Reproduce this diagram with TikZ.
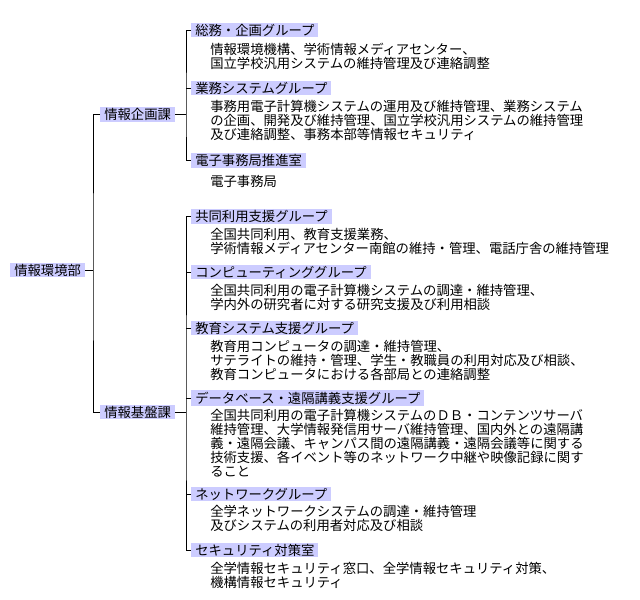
\documentclass[tikz,border=0pt]{standalone}
\usepackage{fontspec}
\setmainfont{Noto Sans CJK JP}
\definecolor{lav}{HTML}{CCCCFF}
\begin{document}
\begin{tikzpicture}[x=0.75pt,y=-0.75pt,
  lab/.style={fill=lav,inner xsep=3pt,inner ysep=1pt,anchor=west,font=\fontsize{10}{11}\selectfont},
  desc/.style={anchor=north west,inner sep=0pt,align=left,font=\fontsize{10}{10.5}\selectfont},
  ln/.style={draw=black,line width=0.75pt}]
\useasboundingbox (0,0) rectangle (640,600);
\node[lab] (root) at (10,270) {情報環境部};
\node[lab] (k1) at (100,114) {情報企画課};
\node[lab] (k2) at (100,412) {情報基盤課};
\coordinate (r) at (93,270);
\draw[ln] (root.east) -- (r);
\draw[ln] (k1.west) -| (r) |- (k2.west);
% top groups
\node[lab] (a1) at (191,30) {総務・企画グループ};
\node[lab] (a2) at (191,88) {業務システムグループ};
\node[lab] (a3) at (191,160) {電子事務局推進室};
\node[desc] (d1) at (210,43) {情報環境機構、学術情報メディアセンター、\\国立学校汎用システムの維持管理及び連絡調整};
\node[desc] (d2) at (210,100) {事務用電子計算機システムの運用及び維持管理、業務システム\\の企画、開発及び維持管理、国立学校汎用システムの維持管理\\及び連絡調整、事務本部等情報セキュリティ};
\node[desc] (d3) at (210,175) {電子事務局};
\coordinate (v1) at (186,114);
\draw[ln] (k1.east) -- (v1);
\draw[ln] (a1.west) -| (v1) |- (a3.west);
\draw[ln] (a2.west) -- (a2.west -| v1);
% bottom groups
\node[lab] (b1) at (191,216) {共同利用支援グループ};
\node[lab] (b2) at (191,272) {コンピューティンググループ};
\node[lab] (b3) at (191,328) {教育システム支援グループ};
\node[lab] (b4) at (191,398) {データベース・遠隔講義支援グループ};
\node[lab] (b5) at (191,494) {ネットワークグループ};
\node[lab] (b6) at (191,550) {セキュリティ対策室};
\node[desc] (e1) at (210,228) {全国共同利用、教育支援業務、\\学術情報メディアセンター南館の維持・管理、電話庁舎の維持管理};
\node[desc] (e2) at (210,284) {全国共同利用の電子計算機システムの調達・維持管理、\\学内外の研究者に対する研究支援及び利用相談};
\node[desc] (e3) at (210,340) {教育用コンピュータの調達・維持管理、\\サテライトの維持・管理、学生・教職員の利用対応及び相談、\\教育コンピュータにおける各部局との連絡調整};
\node[desc] (e4) at (210,409) {全国共同利用の電子計算機システムのＤＢ・コンテンツサーバ\\維持管理、大学情報発信用サーバ維持管理、国内外との遠隔講\\義・遠隔会議、キャンパス間の遠隔講義・遠隔会議等に関する\\技術支援、各イベント等のネットワーク中継や映像記録に関す\\ること};
\node[desc] (e5) at (210,505) {全学ネットワークシステムの調達・維持管理\\及びシステムの利用者対応及び相談};
\node[desc] (e6) at (210,562) {全学情報セキュリティ窓口、全学情報セキュリティ対策、\\機構情報セキュリティ};
\coordinate (v2) at (186,412);
\draw[ln] (k2.east) -- (v2);
\draw[ln] (b1.west) -| (v2) |- (b6.west);
\foreach \n in {b2,b3,b4,b5} \draw[ln] (\n.west) -- (\n.west -| v2);
\end{tikzpicture}
\end{document}
